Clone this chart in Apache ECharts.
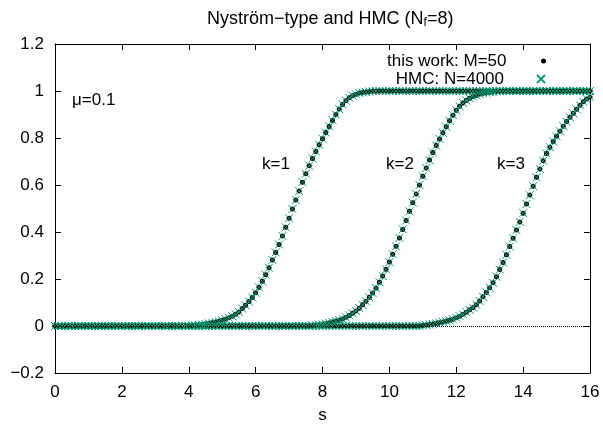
<!DOCTYPE html>
<html>
<head>
<meta charset="utf-8">
<script src="https://cdn.jsdelivr.net/npm/echarts@6/dist/echarts.min.js"></script>
<style>
  html, body { margin: 0; padding: 0; background: #fff; }
  #main { width: 603px; height: 429px; }
</style>
</head>
<body>
<div id="main"></div>
<script>
// s grid of the data (step 0.1)
var sValues = [
  0,0.1,0.2,0.3,0.4,0.5,0.6,0.7,0.8,0.9,
  1,1.1,1.2,1.3,1.4,1.5,1.6,1.7,1.8,1.9,
  2,2.1,2.2,2.3,2.4,2.5,2.6,2.7,2.8,2.9,
  3,3.1,3.2,3.3,3.4,3.5,3.6,3.7,3.8,3.9,
  4,4.1,4.2,4.3,4.4,4.5,4.6,4.7,4.8,4.9,
  5,5.1,5.2,5.3,5.4,5.5,5.6,5.7,5.8,5.9,
  6,6.1,6.2,6.3,6.4,6.5,6.6,6.7,6.8,6.9,
  7,7.1,7.2,7.3,7.4,7.5,7.6,7.7,7.8,7.9,
  8,8.1,8.2,8.3,8.4,8.5,8.6,8.7,8.8,8.9,
  9,9.1,9.2,9.3,9.4,9.5,9.6,9.7,9.8,9.9,
  10,10.1,10.2,10.3,10.4,10.5,10.6,10.7,10.8,10.9,
  11,11.1,11.2,11.3,11.4,11.5,11.6,11.7,11.8,11.9,
  12,12.1,12.2,12.3,12.4,12.5,12.6,12.7,12.8,12.9,
  13,13.1,13.2,13.3,13.4,13.5,13.6,13.7,13.8,13.9,
  14,14.1,14.2,14.3,14.4,14.5,14.6,14.7,14.8,14.9,
  15,15.1,15.2,15.3,15.4,15.5,15.6,15.7,15.8,15.9,
  16
];

// k=1
var curveK1 = [
  0,0,0,0,0,0,0,0,0,0,
  0,0,0,0,0,0,0,0,0,0,
  0,0,0,0,0,0,0,0,0,0,
  0,0,0,0,0,0,0,0,0,0,
  0,0.002,0.003,0.004,0.006,0.008,0.011,0.014,0.017,0.02,
  0.024,0.029,0.035,0.042,0.05,0.06,0.074,0.088,0.104,0.121,
  0.141,0.165,0.19,0.218,0.248,0.281,0.313,0.347,0.383,0.42,
  0.458,0.498,0.536,0.574,0.612,0.648,0.682,0.713,0.743,0.771,
  0.797,0.823,0.849,0.875,0.9,0.923,0.943,0.959,0.971,0.98,
  0.986,0.991,0.994,0.996,0.998,0.999,1,1,1,1,
  1,1,1,1,1,1,1,1,1,1,
  1,1,1,1,1,1,1,1,1,1,
  1,1,1,1,1,1,1,1,1,1,
  1,1,1,1,1,1,1,1,1,1,
  1,1,1,1,1,1,1,1,1,1,
  1,1,1,1,1,1,1,1,1,1,
  1
];

// k=2
var curveK2 = [
  0,0,0,0,0,0,0,0,0,0,
  0,0,0,0,0,0,0,0,0,0,
  0,0,0,0,0,0,0,0,0,0,
  0,0,0,0,0,0,0,0,0,0,
  0,0,0,0,0,0,0,0,0,0,
  0,0,0,0,0,0,0,0,0,0,
  0,0,0,0,0,0,0,0,0,0,
  0,0,0,0,0,0,0,0.002,0.003,0.005,
  0.007,0.01,0.013,0.017,0.021,0.025,0.03,0.037,0.045,0.054,
  0.064,0.076,0.09,0.105,0.122,0.14,0.161,0.186,0.213,0.241,
  0.272,0.305,0.339,0.375,0.411,0.449,0.488,0.525,0.562,0.6,
  0.637,0.672,0.706,0.738,0.768,0.796,0.822,0.848,0.873,0.897,
  0.918,0.935,0.949,0.96,0.969,0.977,0.982,0.987,0.99,0.993,
  0.995,0.997,0.998,0.999,1,1,1,1,1,1,
  1,1,1,1,1,1,1,1,1,1,
  1,1,1,1,1,1,1,1,1,1,
  1
];

// k=3
var curveK3 = [
  0,0,0,0,0,0,0,0,0,0,
  0,0,0,0,0,0,0,0,0,0,
  0,0,0,0,0,0,0,0,0,0,
  0,0,0,0,0,0,0,0,0,0,
  0,0,0,0,0,0,0,0,0,0,
  0,0,0,0,0,0,0,0,0,0,
  0,0,0,0,0,0,0,0,0,0,
  0,0,0,0,0,0,0,0,0,0,
  0,0,0,0,0,0,0,0,0,0,
  0,0,0,0,0,0,0,0,0,0,
  0,0,0,0,0,0,0,0,0,0,
  0.002,0.004,0.006,0.008,0.011,0.014,0.017,0.02,0.024,0.029,
  0.035,0.042,0.05,0.059,0.069,0.078,0.09,0.106,0.124,0.143,
  0.163,0.184,0.21,0.24,0.27,0.303,0.338,0.373,0.408,0.443,
  0.48,0.519,0.557,0.595,0.633,0.668,0.703,0.734,0.761,0.785,
  0.807,0.829,0.85,0.87,0.888,0.905,0.922,0.939,0.954,0.966,
  0.975
];

var curves = [curveK1, curveK2, curveK3];
var curveLabels = ['k=1', 'k=2', 'k=3'];
var nameThisWork = 'this work: M=50';
var nameHMC = 'HMC: N=4000';

var FONT = '"Liberation Sans", Arial, Helvetica, sans-serif';
var FS = 17;
var GREEN = '#009e73';
var CROSS = 'path://M0,0L10,10M10,0L0,10';

var myChart = echarts.init(document.getElementById('main'));

function toPairs(values)
{
    var out = [];
    for (var i = 0; i < values.length; i++) {
        out.push([sValues[i], values[i]]);
    }
    return out;
}

function fmtY(v)
{
    var r = parseFloat(v.toFixed(2));
    return r < 0 ? '\u2212' + Math.abs(r) : String(r);
}

var series = [];
for (var i = 0; i < curves.length; i++) {
    var s = {
        name: nameThisWork,
        type: 'scatter',
        symbol: 'circle',
        symbolSize: 5,
        itemStyle: { color: '#000', opacity: 1 },
        data: toPairs(curves[i]),
        z: 2
    };
    if (i == 0) {
        // dotted zero axis
        s.markLine = {
            silent: true,
            symbol: 'none',
            label: { show: false },
            lineStyle: { type: 'dotted', color: '#000', width: 1 },
            data: [{ yAxis: 0 }]
        };
    }
    series.push(s);
}
for (var i = 0; i < curves.length; i++) {
    series.push({
        name: nameHMC,
        type: 'scatter',
        symbol: CROSS,
        symbolSize: 8,
        itemStyle: { color: 'rgba(0,0,0,0)', borderColor: GREEN, borderWidth: 1, opacity: 1 },
        data: toPairs(curves[i]),
        z: 3
    });
}

var axisBase = {
    type: 'value',
    axisLine: { show: true, onZero: false, lineStyle: { color: '#000', width: 1 } },
    axisTick: { show: true, inside: true, length: 6, lineStyle: { color: '#000' } },
    splitLine: { show: false }
};

var option = {
    animation: false,
    backgroundColor: '#fff',
    title: {
        text: 'Nystr\u00f6m\u2212type and HMC (N{sub|f}=8)',
        left: 202,
        top: 4,
        textStyle: {
            fontFamily: FONT,
            fontSize: 18,
            fontWeight: 'normal',
            color: '#000',
            rich: {
                sub: { fontFamily: FONT, fontSize: 12, color: '#000', padding: [8, 0, 0, 0] }
            }
        }
    },
    grid: { left: 55, right: 13, top: 44, bottom: 49 },
    legend: [
        {
            data: [{ name: nameThisWork, icon: 'circle' }],
            right: 57, top: 52, align: 'right', orient: 'vertical',
            itemWidth: 64, itemHeight: 5, padding: 0,
            textStyle: { fontFamily: FONT, fontSize: FS, color: '#000', lineHeight: 18 }
        },
        {
            data: [{ name: nameHMC, icon: CROSS }],
            right: 57, top: 70, align: 'right', orient: 'vertical',
            itemWidth: 64, itemHeight: 8, padding: 0,
            textStyle: { fontFamily: FONT, fontSize: FS, color: '#000', lineHeight: 18 }
        }
    ],
    xAxis: [
        Object.assign({}, axisBase, {
            min: 0, max: 16, interval: 2,
            name: 's', nameLocation: 'middle', nameGap: 34,
            nameTextStyle: { fontFamily: FONT, fontSize: FS, color: '#000' },
            axisLabel: { fontFamily: FONT, fontSize: FS, color: '#000', margin: 11 }
        }),
        Object.assign({}, axisBase, {
            position: 'top', min: 0, max: 16, interval: 2,
            axisLabel: { show: false }
        })
    ],
    yAxis: [
        Object.assign({}, axisBase, {
            min: -0.2, max: 1.2, interval: 0.2,
            axisLabel: { fontFamily: FONT, fontSize: FS, color: '#000', margin: 11, formatter: fmtY }
        }),
        Object.assign({}, axisBase, {
            position: 'right', min: -0.2, max: 1.2, interval: 0.2,
            axisLabel: { show: false }
        })
    ],
    graphic: [
        { type: 'text', x: 72, y: 100, style: { text: '\u03bc=0.1', font: FS + 'px ' + FONT, fill: '#000', align: 'left', verticalAlign: 'middle' } },
        { type: 'text', x: 276, y: 164, style: { text: curveLabels[0], font: FS + 'px ' + FONT, fill: '#000', align: 'center', verticalAlign: 'middle' } },
        { type: 'text', x: 400, y: 164, style: { text: curveLabels[1], font: FS + 'px ' + FONT, fill: '#000', align: 'center', verticalAlign: 'middle' } },
        { type: 'text', x: 511, y: 164, style: { text: curveLabels[2], font: FS + 'px ' + FONT, fill: '#000', align: 'center', verticalAlign: 'middle' } }
    ],
    series: series
};

myChart.setOption(option);
</script>
</body>
</html>
